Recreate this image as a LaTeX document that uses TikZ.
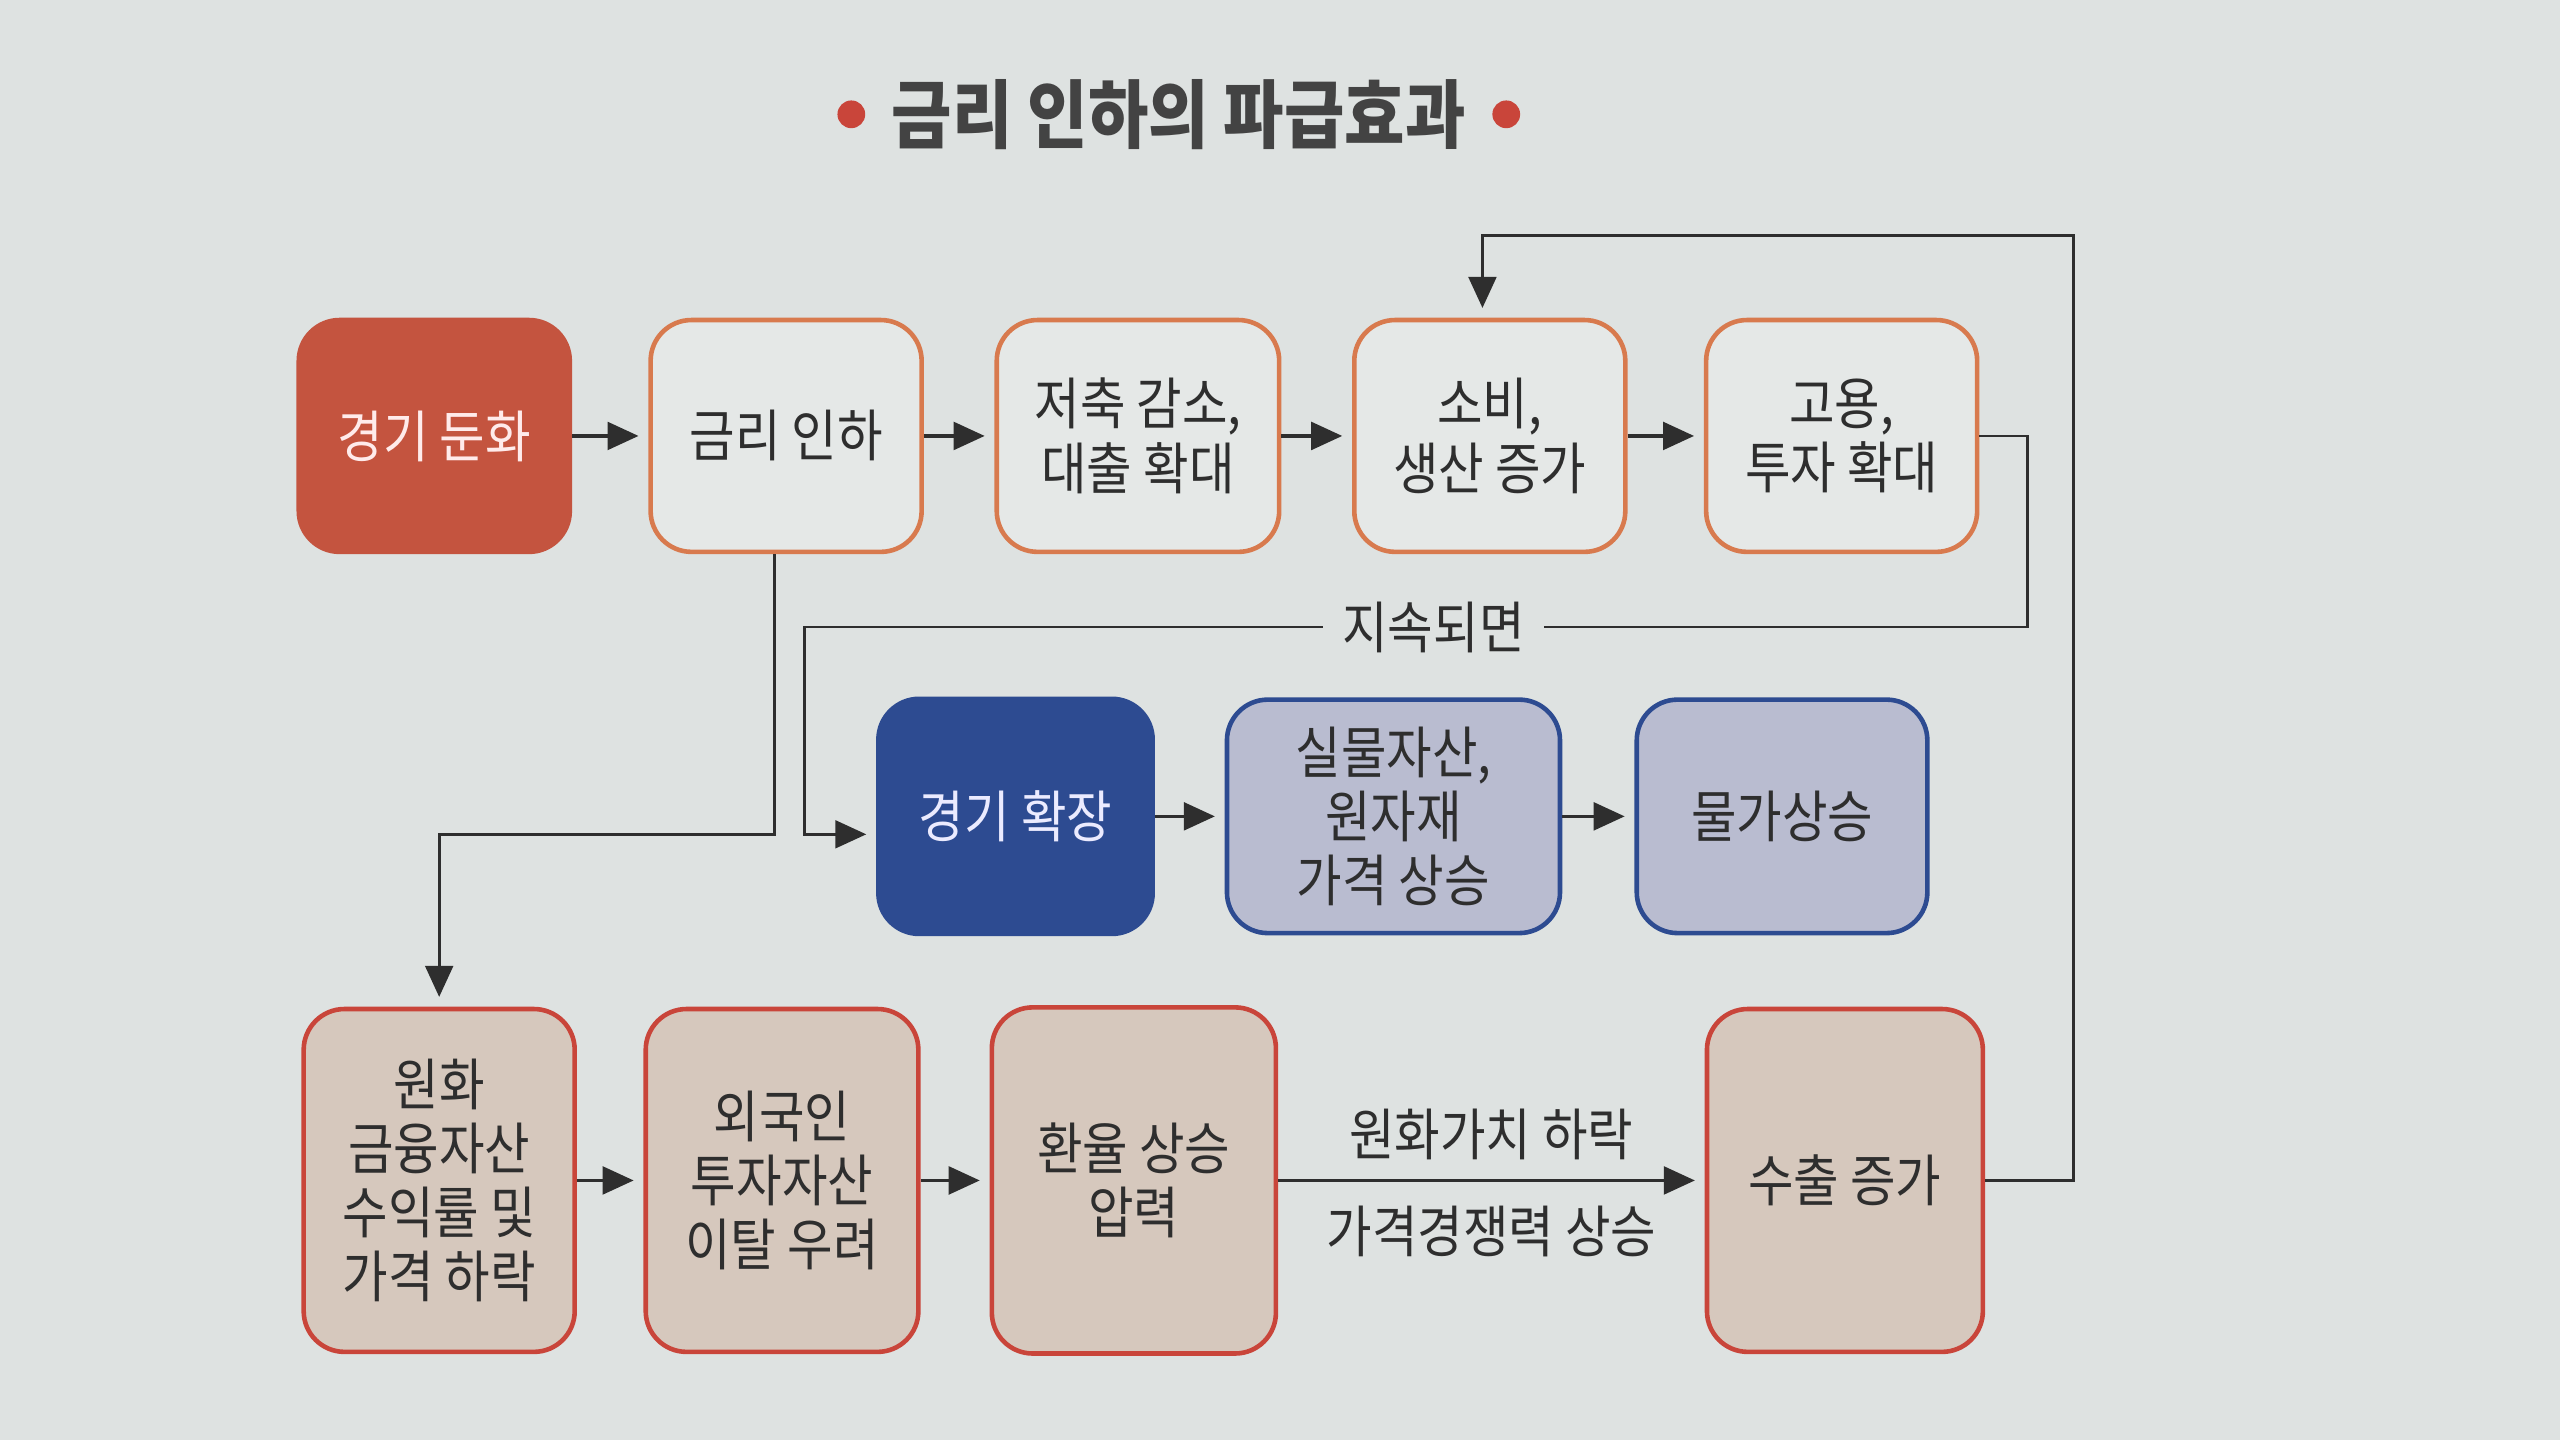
\documentclass[tikz,border=0pt]{standalone}
\usepackage{fontspec}
\setmainfont{Noto Sans CJK KR}[FakeStretch=0.88]
\usepackage{xcolor}
\usepackage{tikz}
\usetikzlibrary{shapes.geometric, positioning, arrows.meta}
\definecolor{paper}{HTML}{DEE2E1}
\definecolor{inkgray}{HTML}{2E2E2E}
\definecolor{downred}{HTML}{C4543F}
\definecolor{rateorange}{HTML}{D87A4E}
\definecolor{boomblue}{HTML}{2D4B91}
\definecolor{lavender}{HTML}{B9BCD0}
\definecolor{fxbeige}{HTML}{D6C8BD}
\definecolor{fxred}{HTML}{C9453A}
\newcommand{\downcolor}{downred}
\newcommand{\ratecolor}{rateorange}
\newcommand{\boomcolor}{boomblue}
\newcommand{\fxcolor}{fxred}
\tikzstyle{baseFn} = [rectangle, rounded corners=2.5mm,
line width=0.8pt,
align=center,
text=inkgray,
font=\fontsize{9.8pt}{11.2pt}\selectfont]
\tikzstyle{slowFn} = [baseFn,
minimum width=1.66cm,
minimum height=1.42cm,
draw=\downcolor, fill=\downcolor,
text=white!92!red]
\tikzstyle{rateFn} = [baseFn,
minimum width=1.66cm,
minimum height=1.42cm,
draw=\ratecolor, fill=paper!80!white]
\tikzstyle{boomFn} = [baseFn,
minimum width=1.68cm,
minimum height=1.44cm,
draw=\boomcolor, fill=\boomcolor,
text=white!92!blue]
\tikzstyle{priceFn} = [baseFn,
minimum height=1.43cm,
draw=\boomcolor, fill=lavender]
\tikzstyle{fxFn} = [baseFn,
minimum width=1.66cm,
minimum height=2.10cm,
draw=\fxcolor, fill=fxbeige]
\tikzstyle{tag} = [text=inkgray, fill=paper, inner sep=1.2mm,
font=\fontsize{9.8pt}{11.2pt}\selectfont]
\tikzstyle{arrow} = [line width=0.55pt, draw=inkgray,
-{Triangle[length=1.9mm, width=1.7mm]}, shorten >=0.6mm]
\tikzstyle{line} = [line width=0.5pt, draw=inkgray]

\begin{document}
\begin{tikzpicture}[node distance=2.155cm]

\fill[paper] (-2.66,2.67) rectangle (13.02,-6.15);
\useasboundingbox (-2.66,2.67) rectangle (13.02,-6.15);

%-----------title
\node (title) [inner sep=0, text=inkgray!90!white,
  font=\fontsize{13pt}{15pt}\selectfont\bfseries] at (4.56,1.97)
  {금리 인하의 파급효과};
\node (dotL) [circle, fill=fxred, minimum size=0.17cm, inner sep=0,
  left=0.15cm of title] {};
\node (dotR) [circle, fill=fxred, minimum size=0.17cm, inner sep=0,
  right=0.15cm of title] {};

%-----------upper row
\node (dunhwa) [slowFn] at (0,0) {경기 둔화};
\node (inha) [rateFn, right of=dunhwa] {금리 인하};
\node (jeochuk) [rateFn, right of=inha, minimum width=1.73cm]
  {저축 감소,\\대출 확대};
\node (sobi) [rateFn, right of=jeochuk] {소비,\\생산 증가};
\node (goyong) [rateFn, right of=sobi] {고용,\\투자 확대};

%-----------middle row
\node (hwakjang) [boomFn] at (3.56,-2.33) {경기 확장};
\node (silmul) [priceFn, right of=hwakjang, xshift=0.16cm,
  minimum width=2.04cm] {실물자산,\\원자재\\가격 상승};
\node (mulga) [priceFn, right of=silmul, xshift=0.225cm,
  minimum width=1.78cm] {물가상승};

%-----------lower row
\node (wonhwa) [fxFn] at (0.03,-4.56)
  {원화\\금융자산\\수익률 및\\가격 하락};
\node (oeguk) [fxFn, right of=wonhwa, xshift=-0.055cm, minimum width=1.67cm]
  {외국인\\투자자산\\이탈 우려};
\node (hwanyul) [fxFn, right of=oeguk, minimum width=1.74cm,
  minimum height=2.12cm] {환율 상승\\압력};
\node (suchul) [fxFn, right of=hwanyul, xshift=2.2cm, minimum width=1.69cm]
  {수출 증가};

%-----------bends
\coordinate (bendA) at (2.085,-2.44);
\coordinate (jisok) at (9.76,-1.17);
\coordinate (bendB) at (2.27,-1.17);
\coordinate (fbR) at (10.04,1.23);
\coordinate (fbL) at (6.42,1.23);

\draw [arrow] (dunhwa) -- (inha);
\draw [arrow] (inha) -- (jeochuk);
\draw [arrow] (jeochuk) -- (sobi);
\draw [arrow] (sobi) -- (goyong);
\draw [arrow] (hwakjang) -- (silmul);
\draw [arrow] (silmul) -- (mulga);
\draw [arrow] (wonhwa) -- (oeguk);
\draw [arrow] (oeguk) -- (hwanyul);
\draw [arrow] (hwanyul) --
  node[tag, fill=none, yshift=0.28cm] {원화가치 하락}
  node[tag, fill=none, yshift=-0.31cm] {가격경쟁력 상승} (suchul);

\draw [arrow, line width=0.5pt] (inha.south -| bendA) -- (bendA) -| (wonhwa.north);
\draw [arrow, line width=0.5pt] (goyong.east) -| (jisok)
  -- node[tag, pos=0.486] {지속되면} (bendB)
  |- ([yshift=-0.11cm]hwakjang.west);
\draw [arrow, line width=0.5pt] (suchul.east) -| (fbR) -- (fbL)
  -- (fbL |- sobi.north);

\end{tikzpicture}
\end{document}
